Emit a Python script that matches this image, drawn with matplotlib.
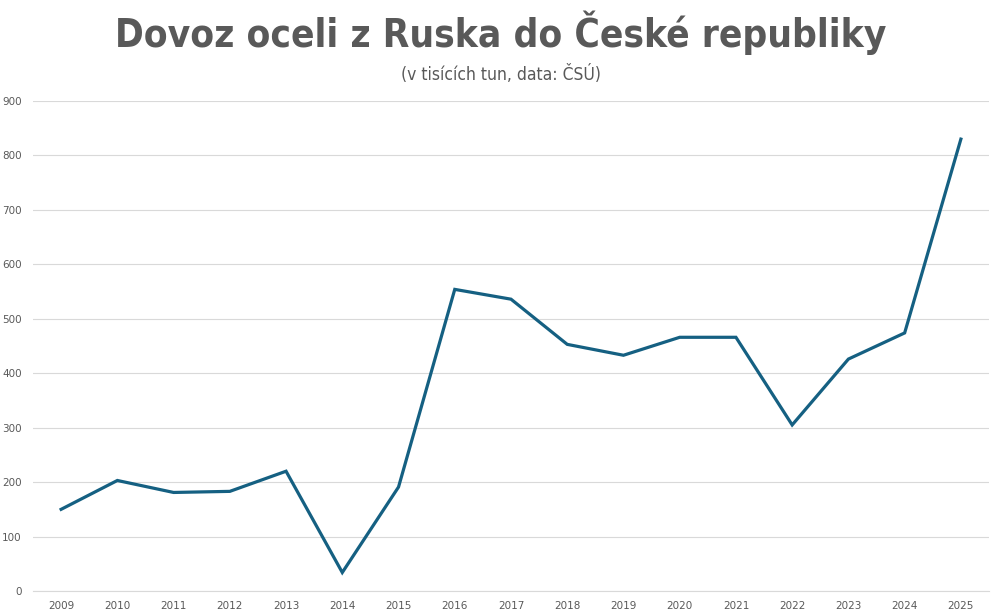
import matplotlib
matplotlib.use("Agg")
import matplotlib.pyplot as plt

years = ["2009", "2010", "2011", "2012", "2013", "2014", "2015", "2016", "2017",
         "2018", "2019", "2020", "2021", "2022", "2023", "2024", "2025"]
imports = [150, 203, 181, 183, 220, 34, 191, 554, 536, 453, 433, 466, 466, 305, 426, 474, 830]
yticks = [0, 100, 200, 300, 400, 500, 600, 700, 800, 900]

title = "Dovoz oceli z Ruska do České republiky"
subtitle = "(v tisících tun, data: ČSÚ)"

fig = plt.figure(figsize=(10.02, 6.16), dpi=100)
ax = fig.add_axes([33/1002, 25/616, 956/1002, 490/616])

x = list(range(len(years)))
ax.plot(x, imports, color="#156082", linewidth=2.3, solid_joinstyle="miter")

ax.set_xlim(-0.5, len(years) - 0.5)
ax.set_ylim(0, 900)
ax.set_yticks(yticks)
ax.set_yticklabels([str(v) for v in yticks])
ax.set_xticks(x)
ax.set_xticklabels(years)
ax.grid(axis="y", color="#d9d9d9", linewidth=0.8)
ax.set_axisbelow(True)
for s in ["top", "right", "left"]:
    ax.spines[s].set_visible(False)
ax.spines["bottom"].set_color("#d9d9d9")
ax.spines["bottom"].set_linewidth(0.8)
ax.tick_params(axis="both", length=0, labelsize=7.5, labelcolor="#595959")
ax.tick_params(axis="y", pad=8)
ax.tick_params(axis="x", pad=7)

t = fig.text(0.5, 1 - 33/616, title, ha="center", va="center", fontsize=30,
             fontweight="bold", color="#595959", family="DejaVu Sans",
             fontstretch="condensed")
fig.canvas.draw()
w = t.get_window_extent().width
t.set_fontsize(30 * 770 / w)

s = fig.text(0.5, 1 - 74/616, subtitle, ha="center", va="center", fontsize=11,
             color="#595959", family="DejaVu Sans", fontstretch="condensed")
fig.canvas.draw()
w2 = s.get_window_extent().width
s.set_fontsize(11 * 200 / w2)

fig.savefig("out.png", dpi=100)
